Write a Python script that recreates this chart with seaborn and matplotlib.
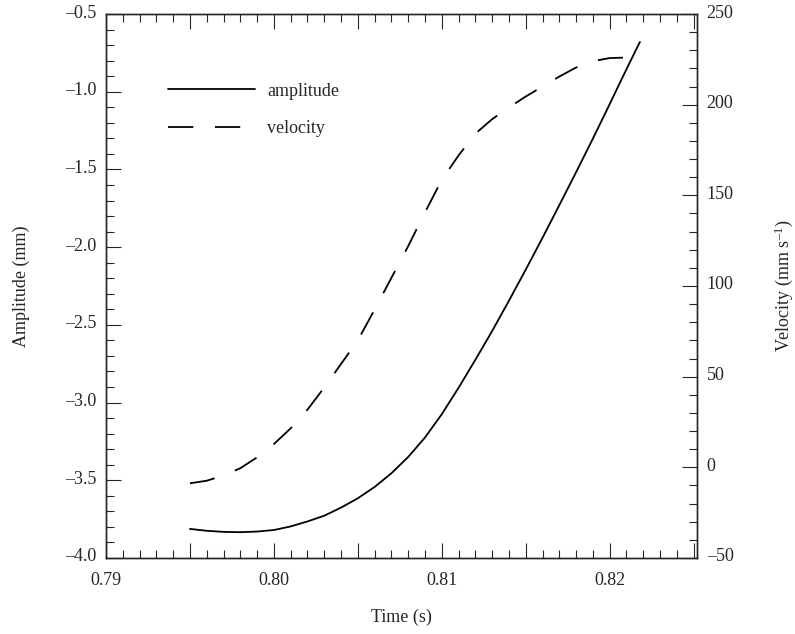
import matplotlib
matplotlib.use("Agg")
import matplotlib.pyplot as plt
import matplotlib.ticker as mticker
import matplotlib.transforms as mtransforms
import pandas as pd
import seaborn as sns

# values
time_s = [0.795, 0.796, 0.797, 0.798, 0.799, 0.800, 0.801, 0.802, 0.803, 0.804,
          0.805, 0.806, 0.807, 0.808, 0.809, 0.810, 0.811, 0.812, 0.813, 0.814,
          0.815, 0.816, 0.817, 0.818, 0.819, 0.820, 0.821, 0.8218]
amplitude_mm = [-3.813, -3.825, -3.832, -3.834, -3.830, -3.820, -3.797, -3.765,
                -3.728, -3.676, -3.616, -3.543, -3.455, -3.350, -3.225, -3.075,
                -2.905, -2.725, -2.540, -2.345, -2.145, -1.940, -1.730, -1.518,
                -1.302, -1.080, -0.855, -0.680]
velocity_mm_s = [-8.8, -7.4, -4.5, -0.5, 5.5, 12.8, 21.5, 31.8, 44.0, 57.0,
                 70.0, 87.0, 104.5, 122.0, 140.6, 158.5, 172.0, 184.0, 192.0,
                 198.5, 204.5, 210.0, 215.5, 220.5, 224.0, 225.7, 226.0, 226.1]

df = pd.DataFrame({"time": time_s, "amplitude": amplitude_mm, "velocity": velocity_mm_s})

sns.set_style("ticks")
plt.rcParams["font.family"] = ["Liberation Serif", "DejaVu Serif"]
plt.rcParams["mathtext.fontset"] = "custom"
plt.rcParams["mathtext.rm"] = "Liberation Serif"
plt.rcParams["mathtext.it"] = "Liberation Serif:italic"
plt.rcParams["axes.linewidth"] = 1.0

fig = plt.figure(figsize=(7.95, 6.34), dpi=100)
ax = fig.add_axes([0.1333, 0.1199, 0.7434, 0.858])
ax2 = ax.twinx()

sns.lineplot(data=df, x="time", y="amplitude", ax=ax, color="black", lw=1.3, label="amplitude")
sns.lineplot(data=df, x="time", y="velocity", ax=ax2, color="black", lw=1.3, label="velocity")
ax2.lines[0].set_dashes((14, 12))

ax.set_xlim(0.79, 0.8252)
ax.set_ylim(-4.0, -0.5)
ax2.set_ylim(-50, 250)

ax.xaxis.set_major_locator(mticker.MultipleLocator(0.005))
ax.xaxis.set_minor_locator(mticker.MultipleLocator(0.001))
ax.xaxis.set_major_formatter(mticker.FuncFormatter(
    lambda v, p: f"{v:.2f}" if abs(round(v * 200) % 2) == 0 else ""))
ax.yaxis.set_major_locator(mticker.MultipleLocator(0.5))
ax.yaxis.set_minor_locator(mticker.MultipleLocator(0.1))
ax.yaxis.set_major_formatter(mticker.FuncFormatter(lambda v, p: f"{v:.1f}".replace("-", "\u2013")))
ax2.yaxis.set_major_locator(mticker.MultipleLocator(50))
ax2.yaxis.set_minor_locator(mticker.MultipleLocator(10))
ax2.yaxis.set_major_formatter(mticker.FuncFormatter(lambda v, p: f"{v:.0f}".replace("-", "\u2013")))

ax.tick_params(axis="x", which="both", direction="in", top=True, labelsize=13, pad=10)
ax.tick_params(axis="y", which="both", direction="in", labelsize=13, pad=7)
ax2.tick_params(axis="y", which="both", direction="in", labelsize=13, pad=7)
for a in (ax, ax2):
    a.tick_params(which="major", length=11, width=0.8)
    a.tick_params(which="minor", length=6, width=0.8)

# the y tick labels sit a little above their ticks in the reference
nudge = mtransforms.ScaledTranslation(0, 0.03, fig.dpi_scale_trans)
for lbl in ax.get_yticklabels() + ax2.get_yticklabels():
    lbl.set_transform(lbl.get_transform() + nudge)

ax.set_xlabel("Time (s)", fontsize=13)
ax.set_ylabel("Amplitude (mm)", fontsize=13)
ax2.set_ylabel("Velocity (mm s$^{\u2013\mathregular{1}}$)", fontsize=13)
ax.xaxis.set_label_coords(0.5, -0.094)
ax.yaxis.set_label_coords(-0.128, 0.5)
ax2.yaxis.set_label_coords(1.127, 0.5)

h1, l1 = ax.get_legend_handles_labels()
h2, l2 = ax2.get_legend_handles_labels()
ax2.get_legend().remove()
ax.legend(h1 + h2, l1 + l2, loc="upper left", bbox_to_anchor=(0.105, 0.874),
          frameon=False, fontsize=13, handlelength=4.8, handletextpad=0.7,
          labelspacing=1.13, borderpad=0, borderaxespad=0)

fig.savefig("out.png", dpi=100)
